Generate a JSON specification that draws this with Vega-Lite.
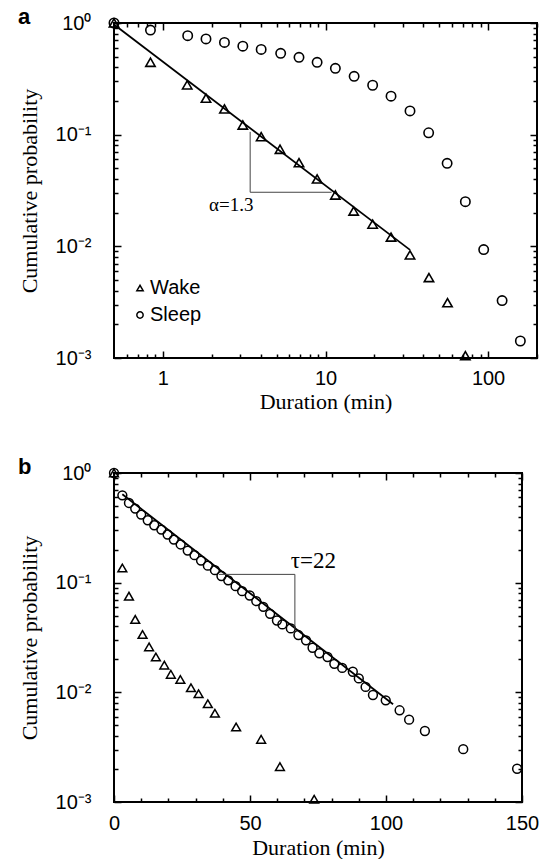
{
  "$schema": "https://vega.github.io/schema/vega-lite/v6.json",
  "padding": {"left": 17, "top": 5, "right": 0, "bottom": 0},
  "background": "white",
  "config": {
    "view": {"stroke": "black", "strokeWidth": 2},
    "font": "Liberation Sans",
    "axis": {
      "domain": false, "grid": false, "tickColor": "black", "tickWidth": 1.5,
      "labelFont": "Liberation Sans", "labelFontSize": 20, "labelColor": "black",
      "titleFont": "Liberation Serif", "titleFontSize": 22, "titleFontWeight": "normal", "titleColor": "black",
      "labelOverlap": false, "labelFlush": false, "labelBound": false
    },
    "title": {"font": "Liberation Sans", "fontSize": 22, "fontWeight": "bold", "color": "black", "anchor": "start", "frame": "bounds", "offset": -16}
  },
  "datasets": {
    "a_points": [
      {"state": "Wake", "duration": 0.5, "prob": 1},
      {"state": "Wake", "duration": 0.838, "prob": 0.445},
      {"state": "Wake", "duration": 1.41, "prob": 0.279},
      {"state": "Wake", "duration": 1.84, "prob": 0.212},
      {"state": "Wake", "duration": 2.39, "prob": 0.170},
      {"state": "Wake", "duration": 3.10, "prob": 0.122},
      {"state": "Wake", "duration": 4.02, "prob": 0.096},
      {"state": "Wake", "duration": 5.25, "prob": 0.074},
      {"state": "Wake", "duration": 6.87, "prob": 0.0561},
      {"state": "Wake", "duration": 8.88, "prob": 0.0401},
      {"state": "Wake", "duration": 11.5, "prob": 0.0288},
      {"state": "Wake", "duration": 14.9, "prob": 0.0207},
      {"state": "Wake", "duration": 19.5, "prob": 0.0158},
      {"state": "Wake", "duration": 25.3, "prob": 0.0121},
      {"state": "Wake", "duration": 33.1, "prob": 0.00838},
      {"state": "Wake", "duration": 43.3, "prob": 0.00525},
      {"state": "Wake", "duration": 56.3, "prob": 0.00313},
      {"state": "Wake", "duration": 72.5, "prob": 0.00105},
      {"state": "Sleep", "duration": 0.5, "prob": 1},
      {"state": "Sleep", "duration": 0.838, "prob": 0.865},
      {"state": "Sleep", "duration": 1.42, "prob": 0.77},
      {"state": "Sleep", "duration": 1.84, "prob": 0.72},
      {"state": "Sleep", "duration": 2.39, "prob": 0.67},
      {"state": "Sleep", "duration": 3.10, "prob": 0.62},
      {"state": "Sleep", "duration": 4.02, "prob": 0.58},
      {"state": "Sleep", "duration": 5.30, "prob": 0.535},
      {"state": "Sleep", "duration": 6.87, "prob": 0.493},
      {"state": "Sleep", "duration": 8.88, "prob": 0.445},
      {"state": "Sleep", "duration": 11.5, "prob": 0.393},
      {"state": "Sleep", "duration": 15.0, "prob": 0.333},
      {"state": "Sleep", "duration": 19.5, "prob": 0.277},
      {"state": "Sleep", "duration": 25.3, "prob": 0.221},
      {"state": "Sleep", "duration": 33.1, "prob": 0.163},
      {"state": "Sleep", "duration": 43.1, "prob": 0.104},
      {"state": "Sleep", "duration": 56.0, "prob": 0.0554},
      {"state": "Sleep", "duration": 72.5, "prob": 0.0251},
      {"state": "Sleep", "duration": 94.0, "prob": 0.00935},
      {"state": "Sleep", "duration": 122, "prob": 0.00327},
      {"state": "Sleep", "duration": 158, "prob": 0.00142}
    ],
    "b_points": [
      {"state": "Wake", "duration": 0, "prob": 1},
      {"state": "Wake", "duration": 3.07, "prob": 0.136},
      {"state": "Wake", "duration": 5.5, "prob": 0.0753},
      {"state": "Wake", "duration": 7.8, "prob": 0.0462},
      {"state": "Wake", "duration": 10.5, "prob": 0.0337},
      {"state": "Wake", "duration": 12.9, "prob": 0.026},
      {"state": "Wake", "duration": 15.4, "prob": 0.021},
      {"state": "Wake", "duration": 18.5, "prob": 0.0177},
      {"state": "Wake", "duration": 20.9, "prob": 0.0146},
      {"state": "Wake", "duration": 24.4, "prob": 0.0131},
      {"state": "Wake", "duration": 28.3, "prob": 0.011},
      {"state": "Wake", "duration": 31.1, "prob": 0.00971},
      {"state": "Wake", "duration": 34.5, "prob": 0.00787},
      {"state": "Wake", "duration": 37.1, "prob": 0.00644},
      {"state": "Wake", "duration": 44.9, "prob": 0.00483},
      {"state": "Wake", "duration": 54.1, "prob": 0.00373},
      {"state": "Wake", "duration": 61.0, "prob": 0.0021},
      {"state": "Wake", "duration": 73.6, "prob": 0.00106},
      {"state": "Sleep", "duration": 0, "prob": 1},
      {"state": "Sleep", "duration": 3.07, "prob": 0.626},
      {"state": "Sleep", "duration": 5.5, "prob": 0.533},
      {"state": "Sleep", "duration": 7.8, "prob": 0.474},
      {"state": "Sleep", "duration": 10.0, "prob": 0.418},
      {"state": "Sleep", "duration": 12.4, "prob": 0.371},
      {"state": "Sleep", "duration": 14.8, "prob": 0.334},
      {"state": "Sleep", "duration": 17.4, "prob": 0.305},
      {"state": "Sleep", "duration": 19.7, "prob": 0.275},
      {"state": "Sleep", "duration": 22.0, "prob": 0.247},
      {"state": "Sleep", "duration": 24.5, "prob": 0.223},
      {"state": "Sleep", "duration": 27.1, "prob": 0.196},
      {"state": "Sleep", "duration": 29.6, "prob": 0.178},
      {"state": "Sleep", "duration": 32.0, "prob": 0.159},
      {"state": "Sleep", "duration": 34.5, "prob": 0.143},
      {"state": "Sleep", "duration": 37.1, "prob": 0.13},
      {"state": "Sleep", "duration": 39.5, "prob": 0.115},
      {"state": "Sleep", "duration": 42.0, "prob": 0.105},
      {"state": "Sleep", "duration": 44.7, "prob": 0.0929},
      {"state": "Sleep", "duration": 47.1, "prob": 0.0837},
      {"state": "Sleep", "duration": 49.9, "prob": 0.0764},
      {"state": "Sleep", "duration": 52.3, "prob": 0.0679},
      {"state": "Sleep", "duration": 54.9, "prob": 0.0602},
      {"state": "Sleep", "duration": 57.4, "prob": 0.052},
      {"state": "Sleep", "duration": 59.9, "prob": 0.0452},
      {"state": "Sleep", "duration": 61.9, "prob": 0.0416},
      {"state": "Sleep", "duration": 65.0, "prob": 0.0383},
      {"state": "Sleep", "duration": 67.8, "prob": 0.0333},
      {"state": "Sleep", "duration": 70.6, "prob": 0.0298},
      {"state": "Sleep", "duration": 73.0, "prob": 0.0255},
      {"state": "Sleep", "duration": 75.5, "prob": 0.0227},
      {"state": "Sleep", "duration": 78.5, "prob": 0.021},
      {"state": "Sleep", "duration": 81.0, "prob": 0.0182},
      {"state": "Sleep", "duration": 83.9, "prob": 0.0167},
      {"state": "Sleep", "duration": 87.8, "prob": 0.0154},
      {"state": "Sleep", "duration": 90.0, "prob": 0.0134},
      {"state": "Sleep", "duration": 92.5, "prob": 0.0112},
      {"state": "Sleep", "duration": 95.2, "prob": 0.00945},
      {"state": "Sleep", "duration": 99.9, "prob": 0.00846},
      {"state": "Sleep", "duration": 105.0, "prob": 0.00686},
      {"state": "Sleep", "duration": 108.5, "prob": 0.00563},
      {"state": "Sleep", "duration": 114.3, "prob": 0.00444},
      {"state": "Sleep", "duration": 128.4, "prob": 0.00303},
      {"state": "Sleep", "duration": 148.2, "prob": 0.00201}
    ],
    "a_fit": [{"x1": 0.5, "x2": 33.1, "y1": 0.97, "y2": 0.0093}],
    "a_tri": [
      {"x1": 3.44, "x2": 3.44, "y1": 0.106, "y2": 0.0305},
      {"x1": 3.44, "x2": 10.9, "y1": 0.0305, "y2": 0.0305}
    ],
    "a_text": [{"x": 2.63, "y": 0.0235, "label": "α=1.3"}],
    "b_fit": [{"x1": 3.07, "x2": 102.6, "y1": 0.64, "y2": 0.0078}],
    "b_tri": [
      {"x1": 38.5, "x2": 66.5, "y1": 0.119, "y2": 0.119},
      {"x1": 66.5, "x2": 66.5, "y1": 0.119, "y2": 0.0377}
    ],
    "b_text": [{"x": 73.3, "y": 0.157, "label": "τ=22"}]
  },
  "resolve": {"scale": {"shape": "independent"}, "legend": {"shape": "independent"}},
  "spacing": 42,
  "vconcat": [
    {
      "title": {"text": "a"},
      "width": 423,
      "height": 335,
      "resolve": {"axis": {"x": "independent", "y": "independent"}},
      "layer": [
        {
          "data": {"name": "a_points"},
          "mark": {"type": "point", "filled": false, "color": "black", "strokeWidth": 1.6, "size": 88, "opacity": 1},
          "encoding": {
            "x": {"field": "duration", "type": "quantitative",
              "scale": {"type": "log", "domain": [0.5, 200], "nice": false},
              "axis": {"orient": "bottom", "title": "Duration (min)",
                "values": [0.6,0.7,0.8,0.9,1,2,3,4,5,6,7,8,9,10,20,30,40,50,60,70,80,90,100,200],
                "labelExpr": "datum.value == 1 ? '1' : datum.value == 10 ? '10' : datum.value == 100 ? '100' : ''",
                "tickSize": {"condition": {"test": "datum.value == 1 || datum.value == 10 || datum.value == 100", "value": -7}, "value": -4},
                "labelPadding": 17, "titlePadding": 0}},
            "y": {"field": "prob", "type": "quantitative",
              "scale": {"type": "log", "domain": [0.001, 1], "nice": false},
              "axis": {"orient": "left", "title": "Cumulative probability",
                "values": [0.001,0.002,0.003,0.004,0.005,0.006,0.007,0.008,0.009,0.01,0.02,0.03,0.04,0.05,0.06,0.07,0.08,0.09,0.1,0.2,0.3,0.4,0.5,0.6,0.7,0.8,0.9,1],
                "labelExpr": "datum.value == 1 ? '10⁰' : datum.value == 0.1 ? '10⁻¹' : datum.value == 0.01 ? '10⁻²' : datum.value == 0.001 ? '10⁻³' : ''",
                "tickSize": {"condition": {"test": "datum.value == 1 || datum.value == 0.1 || datum.value == 0.01 || datum.value == 0.001", "value": -7}, "value": -4},
                "labelPadding": 30, "titlePadding": 14}},
            "shape": {"field": "state", "type": "nominal",
              "scale": {"domain": ["Wake", "Sleep"], "range": ["triangle-up", "circle"]},
              "legend": {"title": null, "orient": "none", "legendX": 16, "legendY": 255, "padding": 0,
                "labelFont": "Liberation Sans", "labelFontSize": 20, "labelColor": "black",
                "symbolStrokeColor": "black", "symbolStrokeWidth": 1.5, "symbolSize": 40, "symbolFillColor": "transparent",
                "rowPadding": 7, "labelOffset": 0}}
          }
        },
        {
          "data": {"name": "a_fit"},
          "mark": {"type": "rule", "color": "black", "strokeWidth": 1.8},
          "encoding": {
            "x": {"field": "x1", "type": "quantitative",
              "scale": {"type": "log", "domain": [0.5, 200], "nice": false},
              "axis": {"orient": "top", "title": null, "labels": false,
                "values": [0.6,0.7,0.8,0.9,1,2,3,4,5,6,7,8,9,10,20,30,40,50,60,70,80,90,100,200],
                "tickSize": {"condition": {"test": "datum.value == 1 || datum.value == 10 || datum.value == 100", "value": -7}, "value": -4}}},
            "x2": {"field": "x2"},
            "y": {"field": "y1", "type": "quantitative",
              "scale": {"type": "log", "domain": [0.001, 1], "nice": false},
              "axis": {"orient": "right", "title": null, "labels": false,
                "values": [0.001,0.002,0.003,0.004,0.005,0.006,0.007,0.008,0.009,0.01,0.02,0.03,0.04,0.05,0.06,0.07,0.08,0.09,0.1,0.2,0.3,0.4,0.5,0.6,0.7,0.8,0.9,1],
                "tickSize": {"condition": {"test": "datum.value == 1 || datum.value == 0.1 || datum.value == 0.01 || datum.value == 0.001", "value": -7}, "value": -4}}},
            "y2": {"field": "y2"}
          }
        },
        {
          "data": {"name": "a_tri"},
          "mark": {"type": "rule", "color": "#444444", "strokeWidth": 1},
          "encoding": {
            "x": {"field": "x1", "type": "quantitative", "scale": {"type": "log", "domain": [0.5, 200], "nice": false}, "axis": null},
            "x2": {"field": "x2"},
            "y": {"field": "y1", "type": "quantitative", "scale": {"type": "log", "domain": [0.001, 1], "nice": false}, "axis": null},
            "y2": {"field": "y2"}
          }
        },
        {
          "data": {"name": "a_text"},
          "mark": {"type": "text", "font": "Liberation Serif", "fontSize": 19, "color": "black"},
          "encoding": {
            "x": {"field": "x", "type": "quantitative", "scale": {"type": "log", "domain": [0.5, 200], "nice": false}, "axis": null},
            "y": {"field": "y", "type": "quantitative", "scale": {"type": "log", "domain": [0.001, 1], "nice": false}, "axis": null},
            "text": {"field": "label"}
          }
        }
      ]
    },
    {
      "title": {"text": "b"},
      "width": 408,
      "height": 329,
      "resolve": {"axis": {"x": "independent", "y": "independent"}},
      "layer": [
        {
          "data": {"name": "b_points"},
          "mark": {"type": "point", "filled": false, "color": "black", "strokeWidth": 1.5, "size": 78, "opacity": 1},
          "encoding": {
            "x": {"field": "duration", "type": "quantitative",
              "scale": {"type": "linear", "domain": [0, 150], "nice": false, "zero": false},
              "axis": {"orient": "bottom", "title": "Duration (min)",
                "values": [0,10,20,30,40,50,60,70,80,90,100,110,120,130,140,150],
                "labelExpr": "datum.value % 50 == 0 ? datum.label : ''",
                "tickSize": {"condition": {"test": "datum.value % 50 == 0", "value": -7}, "value": -4},
                "labelPadding": 18, "titlePadding": 1}},
            "y": {"field": "prob", "type": "quantitative",
              "scale": {"type": "log", "domain": [0.001, 1], "nice": false},
              "axis": {"orient": "left", "title": "Cumulative probability",
                "values": [0.001,0.002,0.003,0.004,0.005,0.006,0.007,0.008,0.009,0.01,0.02,0.03,0.04,0.05,0.06,0.07,0.08,0.09,0.1,0.2,0.3,0.4,0.5,0.6,0.7,0.8,0.9,1],
                "labelExpr": "datum.value == 1 ? '10⁰' : datum.value == 0.1 ? '10⁻¹' : datum.value == 0.01 ? '10⁻²' : datum.value == 0.001 ? '10⁻³' : ''",
                "tickSize": {"condition": {"test": "datum.value == 1 || datum.value == 0.1 || datum.value == 0.01 || datum.value == 0.001", "value": -7}, "value": -4},
                "labelPadding": 30, "titlePadding": 14}},
            "shape": {"field": "state", "type": "nominal",
              "scale": {"domain": ["Wake", "Sleep"], "range": ["triangle-up", "circle"]},
              "legend": null}
          }
        },
        {
          "data": {"name": "b_fit"},
          "mark": {"type": "rule", "color": "black", "strokeWidth": 1.8},
          "encoding": {
            "x": {"field": "x1", "type": "quantitative",
              "scale": {"type": "linear", "domain": [0, 150], "nice": false, "zero": false},
              "axis": {"orient": "top", "title": null, "labels": false,
                "values": [0,10,20,30,40,50,60,70,80,90,100,110,120,130,140,150],
                "tickSize": {"condition": {"test": "datum.value % 50 == 0", "value": -7}, "value": -4}}},
            "x2": {"field": "x2"},
            "y": {"field": "y1", "type": "quantitative",
              "scale": {"type": "log", "domain": [0.001, 1], "nice": false},
              "axis": {"orient": "right", "title": null, "labels": false,
                "values": [0.001,0.002,0.003,0.004,0.005,0.006,0.007,0.008,0.009,0.01,0.02,0.03,0.04,0.05,0.06,0.07,0.08,0.09,0.1,0.2,0.3,0.4,0.5,0.6,0.7,0.8,0.9,1],
                "tickSize": {"condition": {"test": "datum.value == 1 || datum.value == 0.1 || datum.value == 0.01 || datum.value == 0.001", "value": -7}, "value": -4}}},
            "y2": {"field": "y2"}
          }
        },
        {
          "data": {"name": "b_tri"},
          "mark": {"type": "rule", "color": "#444444", "strokeWidth": 1},
          "encoding": {
            "x": {"field": "x1", "type": "quantitative", "scale": {"type": "linear", "domain": [0, 150], "nice": false, "zero": false}, "axis": null},
            "x2": {"field": "x2"},
            "y": {"field": "y1", "type": "quantitative", "scale": {"type": "log", "domain": [0.001, 1], "nice": false}, "axis": null},
            "y2": {"field": "y2"}
          }
        },
        {
          "data": {"name": "b_text"},
          "mark": {"type": "text", "font": "Liberation Serif", "fontSize": 23, "color": "black"},
          "encoding": {
            "x": {"field": "x", "type": "quantitative", "scale": {"type": "linear", "domain": [0, 150], "nice": false, "zero": false}, "axis": null},
            "y": {"field": "y", "type": "quantitative", "scale": {"type": "log", "domain": [0.001, 1], "nice": false}, "axis": null},
            "text": {"field": "label"}
          }
        }
      ]
    }
  ]
}
